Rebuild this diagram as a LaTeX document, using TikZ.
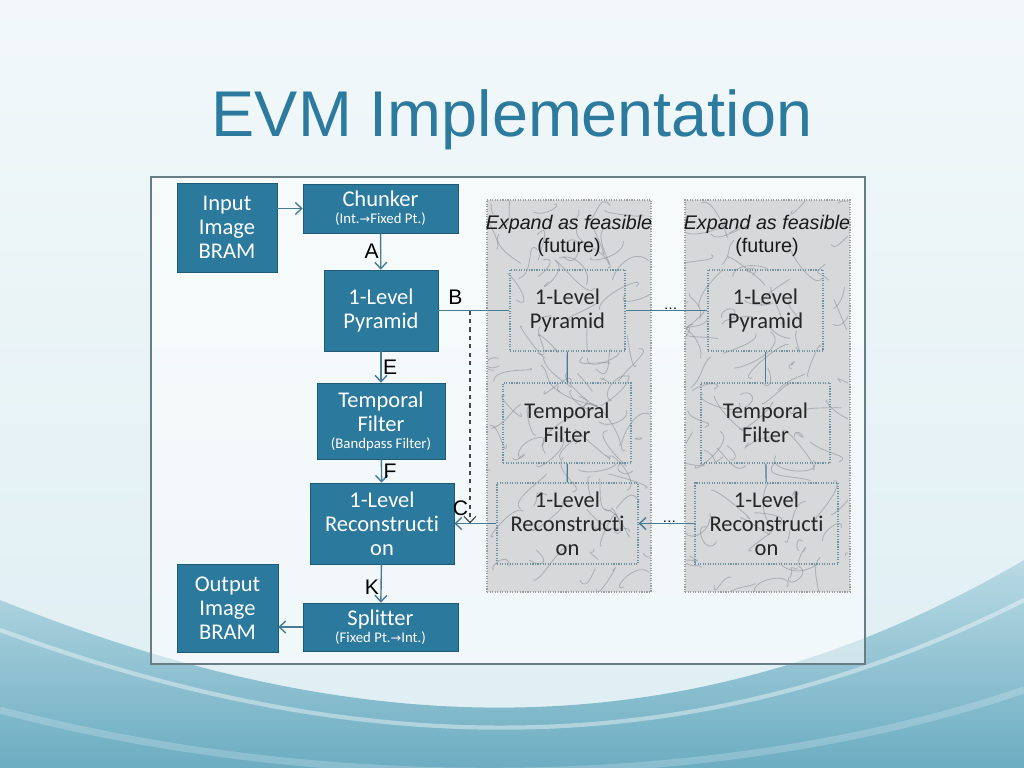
\documentclass[tikz,border=0pt]{standalone}
\usepackage{fontspec}
\setmainfont{Liberation Sans}
\newfontfamily\boxf[Ligatures={NoCommon}]{Carlito}
\newfontfamily\symf{DejaVu Sans}
\usetikzlibrary{arrows.meta,positioning,calc}
\definecolor{evmblue}{RGB}{43,121,156}
\definecolor{evmline}{RGB}{72,124,148}
\definecolor{evmtitle}{RGB}{44,122,158}
\definecolor{frm}{RGB}{105,125,132}
\definecolor{marb}{RGB}{214,216,218}
\definecolor{vein}{RGB}{130,136,142}
\definecolor{dotc}{RGB}{110,145,162}
\definecolor{bgtop}{RGB}{242,248,250}
\definecolor{bgmid}{RGB}{222,238,243}
\definecolor{wvtop}{RGB}{185,218,228}
\definecolor{wvbot}{RGB}{104,170,192}
\newcommand{\arw}{{\symf\fontsize{9}{9}\selectfont →}}
\newcommand{\subtxt}{\boxf\fontsize{10.5}{11}\selectfont}
\tikzset{
  blk/.style={draw=evmblue!75!black,fill=evmblue,text=white,inner sep=0pt,align=center,font=\boxf\fontsize{16}{17}\selectfont},
  pbox/.style={draw=dotc,densely dotted,thick,inner sep=0pt,align=center,text=black!85,font=\boxf\fontsize{16}{17}\selectfont},
  mbl/.style={draw=gray!75,densely dotted,thick,fill=marb,inner sep=0pt},
  arr/.style={draw=evmline,line width=1pt,-{Straight Barb[length=1.6mm,width=3mm]}},
  ln/.style={draw=evmline,line width=0.8pt},
  lbl/.style={font=\fontsize{15}{15}\selectfont,inner sep=1pt},
  hdr/.style={align=center,font=\fontsize{14}{16.5}\selectfont,text=black!90},
}

\begin{document}
\begin{tikzpicture}[x=0.025cm,y=-0.025cm]
  \useasboundingbox (0,0) rectangle (1024,768);
  \shade[top color=bgtop,bottom color=bgmid] (0,0) rectangle (1024,768);
  \shade[top color=wvtop,bottom color=wvbot] (0,600) .. controls (300,720) and (650,780) .. (1024,560) -- (1024,768) -- (0,768) -- cycle;
  \draw[white,opacity=0.4,line width=3pt] (0,630) .. controls (300,740) and (650,790) .. (1024,600);
  \draw[white,opacity=0.2,line width=5pt] (0,710) .. controls (300,790) and (700,800) .. (1024,690);

  \node[text=evmtitle,font=\fontsize{46}{46}\selectfont] (ttl) at (512,120) {EVM Implementation};
  \draw[frm,line width=1.2pt,fill=white,fill opacity=0.55] (151,177) rectangle (865,664);

  \node[mbl,minimum width=4.1cm,minimum height=9.8cm] (p1) at (569,396) {};
  \node[mbl,minimum width=4.125cm,minimum height=9.8cm] (p2) at (767.5,396) {};
  \pgfmathsetseed{11}
  \foreach \px in {488,686}{
    \begin{scope}
      \clip (\px,201) rectangle ++(162,390);
      \foreach \k in {1,...,90}{
        \pgfmathsetmacro\xa{\px+162*rnd}
        \pgfmathsetmacro\ya{201+390*rnd}
        \draw[vein,line width=0.6pt,opacity=0.5] (\xa,\ya) .. controls ++(rand*18,rand*18) and ++(rand*18,rand*18) .. ++(rand*40,rand*40);
      }
    \end{scope}
  }

  \node[hdr] (hd1) at (569,236) {\textit{Expand as feasible}\\(future)};
  \node[hdr] (hd2) at (767,236) {\textit{Expand as feasible}\\(future)};

  \node[blk,minimum width=2.5cm,minimum height=2.225cm] (in) at (227,227.5) {Input\\Image\\BRAM};
  \node[blk,minimum width=3.875cm,minimum height=1.225cm] (chunk) at (380.5,208.5) {Chunker\\[-5pt]{\subtxt(Int.\arw Fixed Pt.)}};
  \node[blk,minimum width=2.85cm,minimum height=2.025cm] (pyr) at (381,310.5) {1-Level\\Pyramid};
  \node[blk,minimum width=3.2cm,minimum height=1.9cm] (tf) at (381,421) {Temporal\\Filter\\[-5pt]{\subtxt(Bandpass Filter)}};
  \node[blk,minimum width=3.6cm,minimum height=2.025cm] (rec) at (382,523.5) {1-Level\\Reconstructi\\on};
  \node[blk,minimum width=2.525cm,minimum height=2.2cm] (out) at (227.5,608) {Output\\Image\\BRAM};
  \node[blk,minimum width=3.875cm,minimum height=1.2cm] (split) at (380.5,627) {Splitter\\[-5pt]{\subtxt(Fixed Pt.\arw Int.)}};

  \node[pbox,minimum width=2.875cm,minimum height=2.025cm] (pyr1) at (567.5,310.5) {1-Level\\Pyramid};
  \node[pbox,minimum width=3.2cm,minimum height=2cm] (tf1) at (567,423) {Temporal\\Filter};
  \node[pbox,minimum width=3.525cm,minimum height=2.025cm] (rec1) at (567.5,523.5) {1-Level\\Reconstructi\\on};
  \node[pbox,minimum width=2.875cm,minimum height=2.025cm] (pyr2) at (765.5,310.5) {1-Level\\Pyramid};
  \node[pbox,minimum width=3.225cm,minimum height=2cm] (tf2) at (765.5,423) {Temporal\\Filter};
  \node[pbox,minimum width=3.575cm,minimum height=2.025cm] (rec2) at (766.5,523.5) {1-Level\\Reconstructi\\on};

  \coordinate (br) at (470,310.5);
  \draw[arr] (in.east |- chunk.west) -- (chunk.west);
  \draw[arr] (chunk) -- node[lbl,left] {A} (pyr);
  \draw[ln] (pyr.east) -- node[lbl,above=3pt,pos=0.24] {B} (pyr1.west);
  \draw[arr,draw=gray!55!black,line width=0.8pt,dashed] (br) -- node[lbl,left,pos=0.93] {C} (br |- rec.east);
  \draw[arr] (pyr) -- node[lbl,right] {E} (tf);
  \draw[arr] (tf) -- node[lbl,right] {F} (rec);
  \draw[arr] (rec) -- node[lbl,left,pos=0.6] {K} (split);
  \draw[arr] (split.west) -- (split.west -| out.east);
  \draw[arr] (rec1.west) -- (rec.east);
  \draw[ln] (pyr1) -- (tf1);
  \draw[ln] (tf1) -- (rec1);
  \draw[ln] (pyr2) -- (tf2);
  \draw[ln] (tf2) -- (rec2);
  \draw[ln] (pyr1.east) -- node[pos=0.55,above,inner sep=0pt] {\ldots} (pyr2.west);
  \draw[arr] (rec2.west) -- node[pos=0.45,above,inner sep=0pt] {\ldots} (rec1.east);
\end{tikzpicture}
\end{document}
